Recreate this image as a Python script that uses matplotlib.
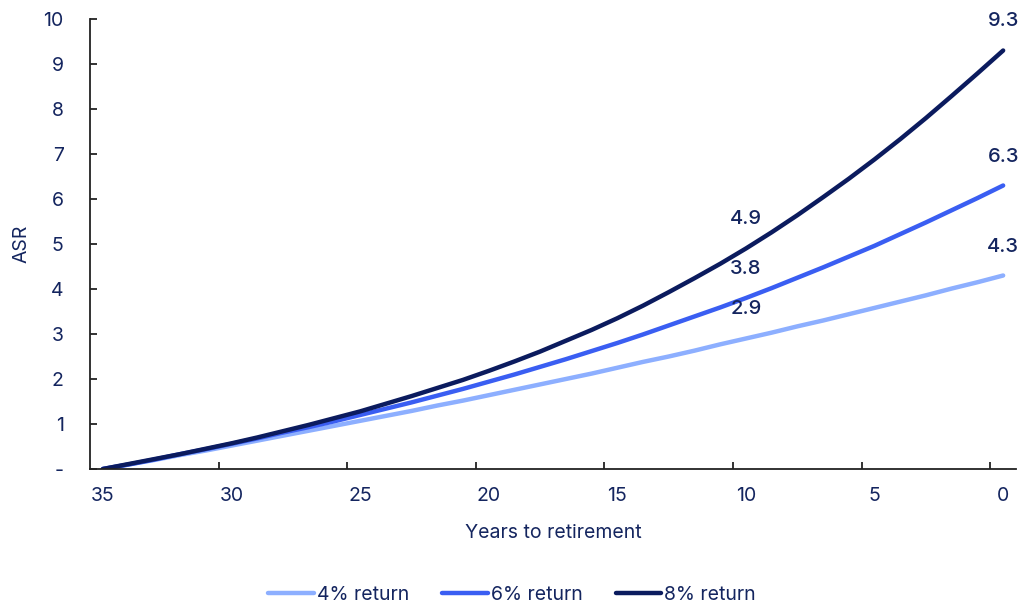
import matplotlib.pyplot as plt
from matplotlib.lines import Line2D

# years to retirement, 35 down to 0
years = list(range(35, -1, -1))

ret_4 = [0.00, 0.10, 0.20, 0.31, 0.41, 0.52, 0.63, 0.74, 0.85, 0.96, 1.07,
         1.18, 1.29, 1.41, 1.52, 1.64, 1.76, 1.88, 2.00, 2.12, 2.25,
         2.38, 2.50, 2.63, 2.77, 2.90, 3.03, 3.17, 3.30, 3.44, 3.58,
         3.72, 3.86, 4.01, 4.15, 4.30]
ret_6 = [0.00, 0.10, 0.21, 0.33, 0.44, 0.56, 0.68, 0.81, 0.93, 1.06, 1.20,
         1.34, 1.48, 1.63, 1.78, 1.94, 2.10, 2.27, 2.44, 2.62, 2.80,
         2.99, 3.19, 3.39, 3.59, 3.80, 4.02, 4.25, 4.48, 4.72, 4.96,
         5.22, 5.48, 5.75, 6.02, 6.30]
ret_8 = [0.00, 0.11, 0.22, 0.33, 0.45, 0.57, 0.70, 0.84, 0.98, 1.13, 1.28,
         1.45, 1.62, 1.80, 1.98, 2.18, 2.39, 2.61, 2.85, 3.09, 3.35,
         3.63, 3.93, 4.24, 4.56, 4.90, 5.26, 5.64, 6.04, 6.45, 6.88,
         7.33, 7.80, 8.29, 8.79, 9.30]

series_names = ['4% return', '6% return', '8% return']
series_colors = ['#8dafff', '#3a5ef2', '#0b1b5e']
label_years = [10, 0]

text_color = '#14255f'
plt.rcParams['font.family'] = ['Inter', 'DejaVu Sans']
plt.rcParams['font.size'] = 14

fig = plt.figure(figsize=(10.24, 6.02), dpi=100)
ax = fig.add_axes([90 / 1024, 1 - 469 / 602, 926 / 1024, 450 / 602])

for vals, color in zip([ret_4, ret_6, ret_8], series_colors):
    ax.plot(years, vals, color=color, lw=3.2, solid_capstyle='round')
    for yr in label_years:
        v = vals[years.index(yr)]
        ax.annotate(f'{v:.1f}', (yr, v), xytext=(0, 29), textcoords='offset pixels',
                    ha='center', va='center', color=text_color, fontsize=14.5,
                    fontweight='medium')

ax.set_xlim(35.5, -0.5)
ax.set_ylim(0, 10)

ax.set_xticks(range(35, -1, -5))
ax.set_xticks([x + 0.5 for x in range(30, -1, -5)], minor=True)
ax.tick_params(axis='x', which='major', length=0, pad=13, labelcolor=text_color)
ax.tick_params(axis='x', which='minor', direction='in', length=5, width=1.3, color='#222222')

ax.set_yticks(range(0, 11))
ax.set_yticklabels(['-'] + [str(i) for i in range(1, 11)])
ax.tick_params(axis='y', direction='in', length=5, width=1.3, color='#222222',
               pad=19, labelcolor=text_color)

for side in ['top', 'right']:
    ax.spines[side].set_visible(False)
for side in ['left', 'bottom']:
    ax.spines[side].set_color('#222222')
    ax.spines[side].set_linewidth(1.3)

ax.set_xlabel('Years to retirement', color=text_color, labelpad=14)
ax.set_ylabel('ASR', color=text_color, labelpad=9)

handles = [Line2D([0], [0], color=c, lw=3.2, solid_capstyle='round') for c in series_colors]
fig.legend(handles, series_names, loc='center', bbox_to_anchor=(0.5, 1 - 595 / 602),
           ncol=3, frameon=False, handlelength=2.35, handletextpad=0.15,
           columnspacing=1.7, labelcolor=text_color)

fig.savefig('out.png', dpi=100)
